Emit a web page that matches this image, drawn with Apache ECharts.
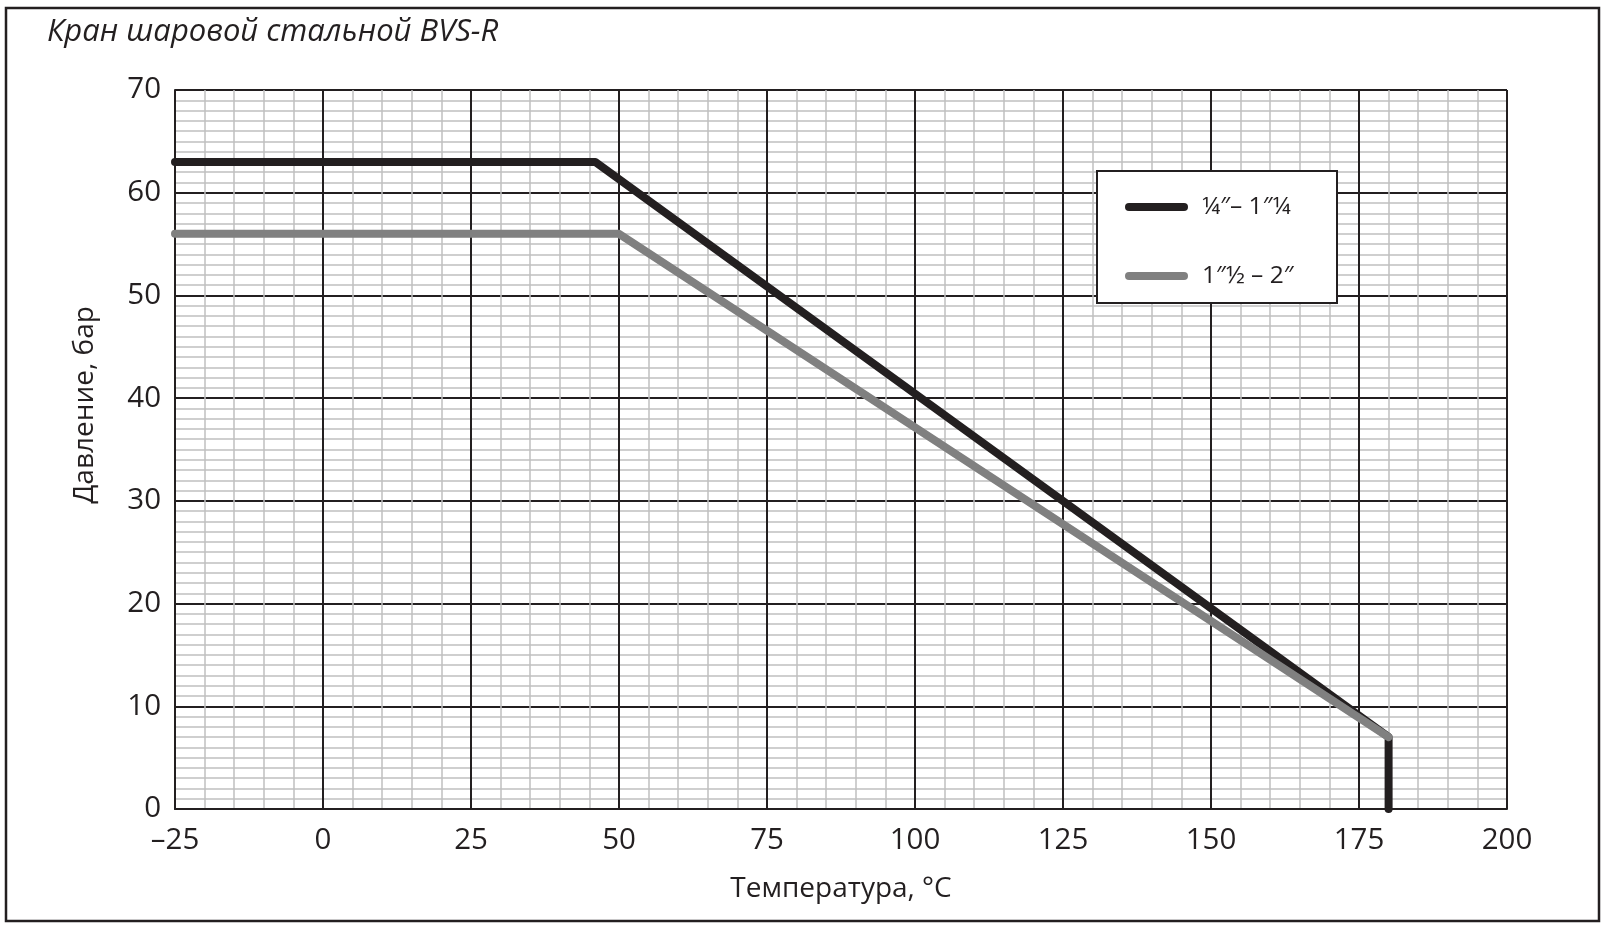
<!DOCTYPE html>
<html>
<head>
<meta charset="utf-8">
<script src="https://cdn.jsdelivr.net/npm/echarts@6/dist/echarts.min.js"></script>
<style>html,body{margin:0;padding:0;background:#fff;}#c{width:1609px;height:931px;}</style>
</head>
<body>
<div id="c"></div>
<script>
// ---- data ----
const titleText = 'Кран шаровой стальной BVS-R';
const xName = 'Температура, °C';
const yName = 'Давление, бар';
const seriesNames = ['¼″– 1″¼', '1″½ – 2″'];
const temps1 = [-25, 46, 180, 180];
const press1 = [63, 63, 7, 0];
const temps2 = [-25, 50, 180];
const press2 = [56, 56, 7];
const xMin = -25, xMax = 200, xStep = 25;
const yMin = 0, yMax = 70, yStep = 10;

const INK = '#231f20';
const GRAY = '#808080';
const FONT = 'Open Sans';

const pairs = (xs, ys) => xs.map((x, i) => [x, ys[i]]);
const capsule = 'path://M4,0 L59,0 A4,4 0 0 1 59,8 L4,8 A4,4 0 0 1 4,0 Z';

const chart = echarts.init(document.getElementById('c'), null, {renderer: 'canvas'});
chart.setOption({
  backgroundColor: '#fff',
  animation: false,
  grid: {left: 175, right: 102, top: 90, bottom: 122, containLabel: false},
  xAxis: {
    type: 'value', min: xMin, max: xMax, interval: xStep,
    name: xName, nameLocation: 'middle', nameGap: 66,
    nameTextStyle: {fontFamily: FONT, fontSize: 28, color: INK},
    axisLine: {show: true, onZero: false, lineStyle: {color: INK, width: 2}},
    axisTick: {show: false},
    axisLabel: {margin: 17, fontFamily: FONT, fontSize: 29.5, color: INK,
      formatter: v => String(v).replace('-', '\u2013')},
    splitLine: {show: true, lineStyle: {color: INK, width: 2}},
    minorTick: {show: false, splitNumber: 5},
    minorSplitLine: {show: true, lineStyle: {color: '#c0c0c0', width: 1.5}}
  },
  yAxis: {
    type: 'value', min: yMin, max: yMax, interval: yStep,
    axisLine: {show: true, onZero: false, lineStyle: {color: INK, width: 2}},
    axisTick: {show: false},
    axisLabel: {margin: 14, fontFamily: FONT, fontSize: 29.5, color: INK},
    splitLine: {show: true, lineStyle: {color: INK, width: 2}},
    minorTick: {show: false, splitNumber: 10},
    minorSplitLine: {show: true, lineStyle: {color: '#c0c0c0', width: 1.5}}
  },
  legend: {
    orient: 'vertical', left: 1120, top: 187, itemGap: 39, z: 10,
    itemWidth: 63, itemHeight: 9, icon: capsule,
    textStyle: {fontFamily: FONT, fontSize: 24.5, color: INK, lineHeight: 30, padding: [0, 0, 0, 9]},
    data: seriesNames
  },
  graphic: [
    {type: 'rect', z: 0, silent: true, shape: {x: 6, y: 8, width: 1593, height: 913},
      style: {fill: null, stroke: INK, lineWidth: 2.5}},
    {type: 'rect', z: 9, silent: true, shape: {x: 1097, y: 171, width: 240, height: 132},
      style: {fill: '#fff', stroke: INK, lineWidth: 2}},
    {type: 'text', left: 47, top: 17, silent: true,
      style: {text: titleText, fontFamily: FONT, fontStyle: 'italic', fontSize: 31, fill: INK}},
    {type: 'text', x: 85, y: 405, rotation: Math.PI / 2, silent: true,
      style: {text: yName, fontFamily: FONT, fontSize: 28, fill: INK, textAlign: 'center', textVerticalAlign: 'middle'}}
  ],
  series: [
    {name: seriesNames[0], type: 'line', data: pairs(temps1, press1), symbol: 'none', clip: false, z: 3,
      color: INK, lineStyle: {color: INK, width: 8, cap: 'round', join: 'round'}},
    {name: seriesNames[1], type: 'line', data: pairs(temps2, press2), symbol: 'none', clip: false, z: 4,
      color: GRAY, lineStyle: {color: GRAY, width: 8, cap: 'round', join: 'round'}}
  ]
});
</script>
</body>
</html>
